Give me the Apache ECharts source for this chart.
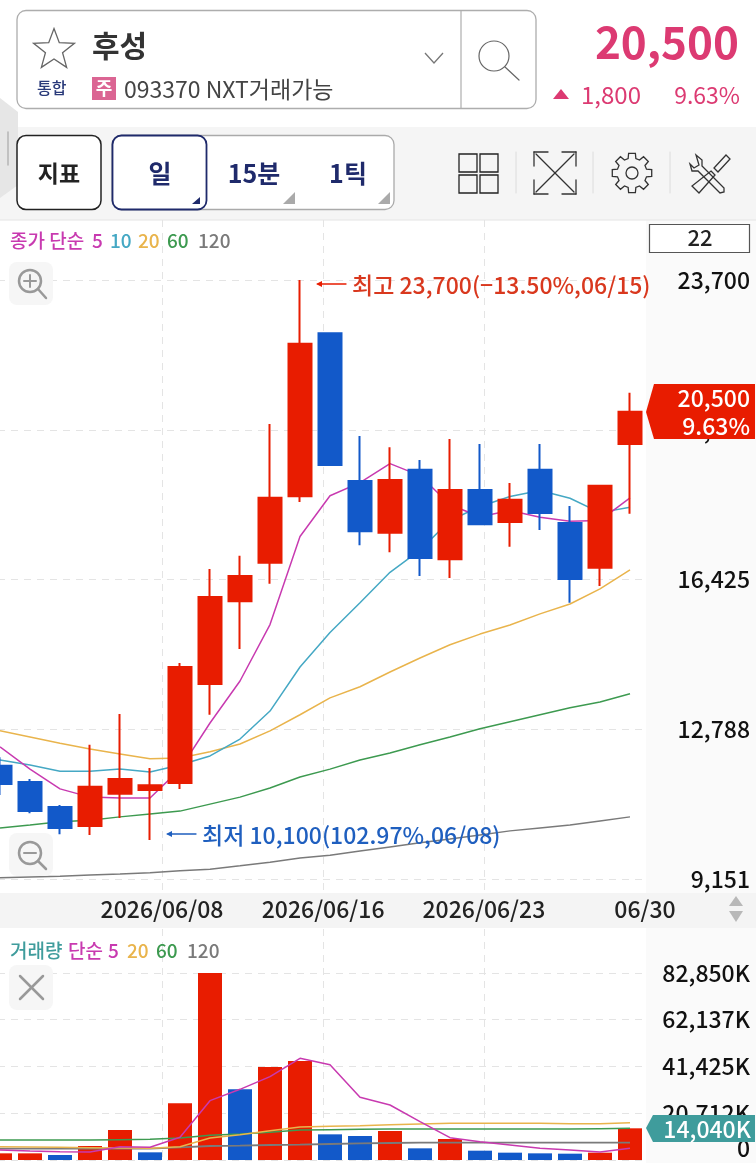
<!DOCTYPE html>
<html><head><meta charset="utf-8">
<style>html,body{margin:0;padding:0;background:#fff}#c{width:756px;height:1163px}</style>
<script src="https://cdn.jsdelivr.net/npm/echarts@6/dist/echarts.min.js"></script></head>
<body><div id="c"></div>
<script>
const categories=['05/27','05/28','05/29','06/01','06/02','06/03','06/04','06/05','06/08','06/09','06/10','06/11','06/12','06/15','06/16','06/17','06/18','06/19','06/22','06/23','06/24','06/25'];
// open, close, low, high
const candles=[[11900,11460,11190,12110],[11510,10800,10750,11580],[10900,10390,10240,10950],[10440,11390,10220,12410],[11220,11580,10630,13160],[11310,11430,10100,11850],[11480,14300,11340,14400],[13890,16000,13140,16680],[15900,16510,14740,17000],[16830,18410,16320,20200],[18450,22150,18310,23700],[22410,19210,19210,22410],[18820,17600,17260,19910],[17560,18840,17090,19640],[19090,16950,16510,19330],[16920,18600,16460,19840],[18600,17770,17750,19720],[17820,18360,17220,18770],[19090,18040,17630,19720],[17800,16440,15860,18210],[16710,18700,16270,18720],[19720,20500,18020,20960]];
const ma5=[12360,11820,11340,11140,11120,11120,11820,12940,13960,15330,17470,18460,18780,19240,18950,18240,17950,18100,17940,17840,17860,18410];
const ma10=[12040,11920,11770,11770,11820,11750,11920,12140,12550,13230,14300,15140,15860,16600,17140,17860,18200,18440,18590,18400,18050,18180];
const ma20=[12750,12600,12450,12310,12190,12070,12090,12240,12430,12750,13140,13550,13820,14180,14520,14840,15100,15320,15590,15830,16200,16660];
const ma60=[10390,10460,10540,10580,10660,10730,10800,10970,11140,11360,11630,11820,12040,12210,12410,12600,12800,12970,13140,13310,13450,13650];
const ma120=[9180,9200,9220,9250,9270,9300,9350,9390,9470,9560,9660,9730,9830,9930,10030,10120,10220,10320,10390,10460,10560,10660];
const volume=[2950,2950,2220,6200,13290,3400,25100,82850,31300,41200,43860,11370,10630,12850,5170,9300,4130,3250,2950,2800,3250,14040];
const volRising=[1,1,0,1,1,0,1,1,0,1,1,0,0,1,0,1,0,0,0,0,1,1];
const volMa5=[4430,3990,3690,3540,5910,5610,10040,26290,31310,36930,45050,42240,27770,24370,16990,9900,8120,6650,5170,4430,3540,5170];
const volMa20=[5910,5760,5610,5460,5320,5170,5910,9750,11230,13000,14620,14920,15210,15660,15950,16250,16250,16250,16250,16100,16100,16540];
const volMa60=[8860,8860,8860,8860,9010,9160,9750,10930,11520,12260,13290,13440,13590,13740,13740,13740,13740,13740,13740,13740,13880,14030];
const volMa120=[5020,5020,5020,5020,5020,5020,5610,6200,6350,6650,6790,7090,7390,7530,7680,7680,7680,7680,7680,7680,7680,7680];
const priceTicks=[9151,12788,16425,20062,23700];
const volumeTicks=[0,20712,41425,62137,82850];
const dateTicks=[5.4,10.77,16.13];
const dateLabels={5.4:'2026/06/08',10.77:'2026/06/16',16.13:'2026/06/23',21.5:'06/30'};

const F='"Noto Sans CJK KR","Noto Sans",sans-serif';
const RED='#e81c00',BLUE='#1259c9',PINK='#dc3a72',C5='#c83ab0',C10='#45a8c4',C20='#e9b44c',C60='#3d9a50',C120='#7a7a7a',TEAL='#3f9c9c';
const g=[];
const Z=100;
function T(x,y,text,size,fill,align,weight,z){g.push({type:'text',silent:true,z:z===undefined?Z:z,style:{x,y,text,fill,font:(weight||500)+' '+size+'px '+F,textAlign:align||'left',textVerticalAlign:'middle'}});}
function R(x,y,w,h,fill,stroke,r,lw,z){g.push({type:'rect',silent:true,z:z===undefined?Z:z,shape:{x,y,width:w,height:h,r:r||0},style:{fill:fill||'none',stroke:stroke||'none',lineWidth:lw||1}});}
function L(x1,y1,x2,y2,stroke,lw){g.push({type:'line',silent:true,z:Z,shape:{x1,y1,x2,y2},style:{stroke,lineWidth:lw||1.2,lineCap:'round'}});}
function P(points,fill,stroke,lw,z){g.push({type:'polygon',silent:true,z:z===undefined?Z:z,shape:{points},style:{fill:fill||'none',stroke:stroke||'none',lineWidth:lw||1}});}
function C(cx,cy,r,fill,stroke,lw){g.push({type:'circle',silent:true,z:Z,shape:{cx,cy,r},style:{fill:fill||'none',stroke:stroke||'none',lineWidth:lw||1}});}

// backgrounds
R(0,0,756,1163,'#fff',null,0,1,-20);
R(646,220,110,943,'#fafafa',null,0,1,-19);
R(0,127,756,93,'#f5f5f5',null,0,1,-19);
g.push({type:'line',silent:true,z:-18,shape:{x1:0,y1:220,x2:756,y2:220},style:{stroke:'#e4e4e4',lineWidth:1}});
R(0,893,756,35,'#f4f4f4',null,0,1,-18);
// header
R(17,10.5,519,98,'#fff','#adadad',9,1.3,1);
L(461,11,461,108,'#adadad',1.2);
const star=[];for(let i=0;i<10;i++){const a=-Math.PI/2+i*Math.PI/5,r=i%2?9:21.5;star.push([54+r*Math.cos(a),50+r*Math.sin(a)]);}
P(star,null,'#666',1.3);
T(92,46,'후성',30,'#333','left',700);
g.push({type:'polyline',silent:true,z:Z,shape:{points:[[425,53],[434,63],[443,53]]},style:{stroke:'#777',lineWidth:1.3,fill:'none'}});
C(494,56,15,null,'#666',1.2);L(505,67,519,80,'#666',1.2);
T(37,88,'통합',16,'#2a3a7a','left',500);
R(92,77,24,23,'#db6593');T(104,88,'주',18,'#fff','center',700);
T(124,89,'093370 NXT거래가능',23,'#444','left',400);
T(739,42,'20,500',44,PINK,'right',700);
P([[553,99],[569,99],[561,89]],PINK);
T(581,95,'1,800',24,PINK,'left',400);T(740,95,'9.63%',23,PINK,'right',400);
// left handle
P([[0,98],[18,112],[18,185],[0,198]],'#e6e6e6',null,1,2);L(8,132,8,165,'#b5b5b5',1.5);
// toolbar
R(17,135.5,84,74,'#fff','#222',9,1.5);T(59,173,'지표',23,'#222','center',700);
R(112,135.5,282,74,'#fff','#aaa',9,1.3);R(112.5,135.5,94,74,'#fff','#1f2a6b',9,1.8);
T(160,173,'일',25,'#1f2a6b','center',700);T(254,173,'15분',25,'#1f2a6b','center',700);T(348,173,'1틱',25,'#1f2a6b','center',700);
P([[200,197],[200,204],[192,204]],'#1f2a6b');P([[295,192],[295,204],[283,204]],'#aaa');P([[390,192],[390,204],[378,204]],'#aaa');
// toolbar icons
[[459,154],[480,154],[459,175],[480,175]].forEach(p=>R(p[0],p[1],18,18,null,'#222',0,1.3));
[516,593,670].forEach(x=>L(x,152,x,193,'#dcdcdc',1));
L(536,154,574,192,'#333',1.3);L(574,154,536,192,'#333',1.3);
[[534,152,1,1],[576,152,-1,1],[534,194,1,-1],[576,194,-1,-1]].forEach(p=>{L(p[0],p[1],p[0]+14*p[2],p[1],'#333',1.3);L(p[0],p[1],p[0],p[1]+14*p[3],'#333',1.3);});
const gear=[];for(let i=0;i<8;i++){const a=i*Math.PI/4-Math.PI/2;[[-.26,15],[-.17,20],[.17,20],[.26,15]].forEach(q=>gear.push([632+q[1]*Math.cos(a+q[0]),173+q[1]*Math.sin(a+q[0])]));}
P(gear,null,'#333',1.3);C(632,173,6,null,'#333',1.3);
// tools icon: wrench and screwdriver
P([[696,155],[702,160],[702,166],[724,188],[724,192],[720,193],[698,171],[692,171],[690,164],[694,168],[699,165]],null,'#333',1.3);
P([[726,155],[730,159],[718,172],[714,168]],null,'#333',1.3);
P([[711,171],[715,175],[699,193],[692,186]],null,'#333',1.3);
// legend price
T(10,241,'종가 단순',19,C5);T(92,241,'5',19,C5);T(110,241,'10',19,C10);T(138,241,'20',19,C20);T(167,241,'60',19,C60);T(198,241,'120',19,C120);
R(649.5,224.5,100,28,'#fff','#555',0,1.2);T(700,238,'22',22,'#222','center');
// zoom buttons
R(9,262,44,43,'#f6f6f6',null,8,1,4);C(30,281,11,null,'#999',2.5);L(38,289,46,298,'#999',2.5);L(24,281,36,281,'#999',2);L(30,275,30,287,'#999',2);
R(9,833,44,43,'#f6f6f6',null,8,1,4);C(30,853,11,null,'#999',2.5);L(38,861,46,869,'#999',2.5);L(24,853,36,853,'#999',2);
R(9,965,44,45,'#f6f6f6',null,8,1,4);L(20,976,43,999,'#999',2.5);L(43,976,20,999,'#999',2.5);
// annotation arrows
L(318,284,346,284,RED,1.3);P([[316,284],[322,281],[322,287]],RED);
L(168,834,196,834,'#1f5fbf',1.3);P([[166,834],[172,831],[172,837]],'#1f5fbf');
// axis spinner
P([[729,906],[743,906],[736,896]],'#b8b8b8');P([[729,911],[743,911],[736,922]],'#b8b8b8');
// price tag
P([[646,412],[654,384],[755,384],[755,439],[654,439]],RED);
T(750,398,'20,500',23,'#fff','right',500);T(750,426,'9.63%',23,'#fff','right',500);
// volume legend
T(10,951,'거래량',19,TEAL);T(68,951,'단순',19,C5);T(108,951,'5',19,C5);T(127,951,'20',19,C20);T(156,951,'60',19,C60);T(187,951,'120',19,C120);
// volume tag
P([[646,1128],[653,1115],[755,1115],[755,1142],[653,1142]],TEAL);
T(751,1129,'14,040K',23,'#fff','right',500);

function line(name,data,color,x,y,w,z){return {name,type:'line',data,xAxisIndex:x,yAxisIndex:y,symbol:'none',lineStyle:{color,width:w||1.5},itemStyle:{color},z:z||2,silent:true,animation:false};}
const dash={show:true,lineStyle:{color:'#e4e4e4',type:[7,6],width:1}};
const option={
 animation:false,backgroundColor:'transparent',
 textStyle:{fontFamily:F},
 grid:[{left:-15,width:660,top:220,height:673,outerBoundsMode:'none'},{left:-15,width:660,top:929,height:231,outerBoundsMode:'none'}],
 graphic:{elements:g},
 xAxis:[
  {type:'category',gridIndex:0,data:categories,axisLine:{show:false},axisTick:{show:false},axisLabel:{show:false},splitLine:{show:false}},
  {type:'value',gridIndex:0,min:-0.5,max:21.5,position:'bottom',axisLine:{show:false},axisTick:{show:false,customValues:dateTicks},
   axisLabel:{show:true,customValues:dateTicks.concat([21.5]),formatter:v=>dateLabels[v]||'',color:'#222',fontSize:23,fontWeight:500,fontFamily:F,margin:5,hideOverlap:false,showMaxLabel:true},
   splitLine:dash},
  {type:'category',gridIndex:1,data:categories,axisLine:{show:false},axisTick:{show:false},axisLabel:{show:false},splitLine:{show:false}},
  {type:'value',gridIndex:1,min:-0.5,max:21.5,axisLine:{show:false},axisTick:{show:false,customValues:dateTicks},axisLabel:{show:false},splitLine:dash}
 ],
 yAxis:[
  {type:'value',gridIndex:0,position:'right',min:8811,max:25158,axisLine:{show:false},axisTick:{show:false,customValues:priceTicks},
   axisLabel:{show:true,customValues:priceTicks,formatter:v=>v.toLocaleString('en-US'),color:'#111',fontSize:23,fontWeight:500,fontFamily:F,align:'right',margin:105},splitLine:dash},
  {type:'value',gridIndex:1,position:'right',min:0,max:102333,axisLine:{show:false},axisTick:{show:false,customValues:volumeTicks},
   axisLabel:{show:true,customValues:volumeTicks,formatter:v=>v===0?'0':v.toLocaleString('en-US')+'K',color:'#111',fontSize:23,fontWeight:500,fontFamily:F,align:'right',margin:105,verticalAlignMinLabel:'bottom'},splitLine:dash}
 ],
 series:[
  line('MA120',ma120,C120,0,0),line('MA60',ma60,C60,0,0),line('MA20',ma20,C20,0,0),line('MA10',ma10,C10,0,0),line('MA5',ma5,C5,0,0),
  {name:'가격',type:'candlestick',xAxisIndex:0,yAxisIndex:0,barWidth:23,z:3,silent:true,animation:false,
   data:candles,itemStyle:{color:RED,color0:BLUE,borderColor:RED,borderColor0:BLUE,borderWidth:2},
   markPoint:{silent:true,symbol:'circle',symbolSize:0,animation:false,data:[
    {coord:[10,23700],label:{show:true,position:'right',distance:52,offset:[0,5],formatter:'최고 23,700(−13.50%,06/15)',color:'#d9381e',fontSize:23,fontWeight:500,fontFamily:F}},
    {coord:[5,10100],label:{show:true,position:'right',distance:52,offset:[0,-5],formatter:'최저 10,100(102.97%,06/08)',color:'#1f5fbf',fontSize:23,fontWeight:500,fontFamily:F}}
   ]}},
  {name:'거래량',type:'bar',xAxisIndex:2,yAxisIndex:1,barWidth:24,z:2,silent:true,animation:false,
   data:volume.map((v,i)=>({value:v,itemStyle:{color:volRising[i]?RED:BLUE}}))},
  line('거래량MA120',volMa120,C120,2,1,1.8,3),line('거래량MA60',volMa60,C60,2,1,1.5,3),line('거래량MA20',volMa20,C20,2,1,1.5,3),line('거래량MA5',volMa5,C5,2,1,1.5,3)
 ]
};
const chart=echarts.init(document.getElementById('c'),null,{renderer:'canvas',width:756,height:1163});
chart.setOption(option);
</script></body></html>
